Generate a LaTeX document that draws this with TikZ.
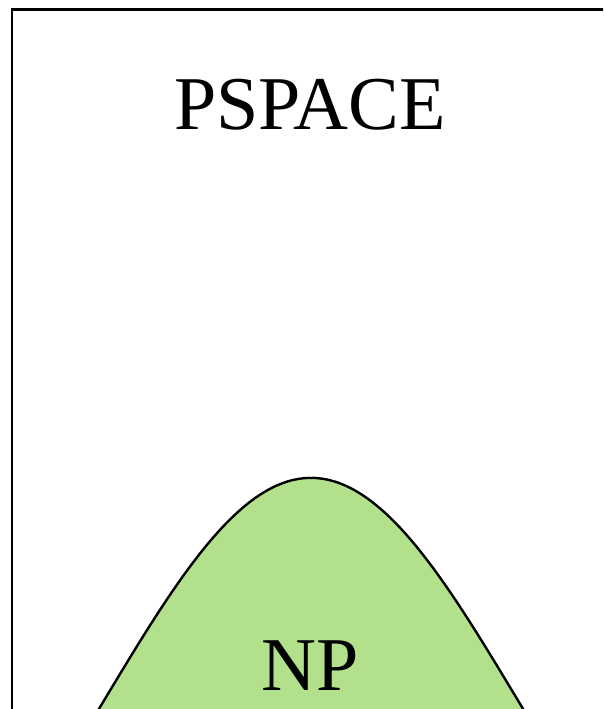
\documentclass[tikz,border=0pt]{standalone}
\usepackage{fontspec}
\setmainfont{Liberation Serif}
\definecolor{npgreen}{RGB}{179,224,139}
\begin{document}
\begin{tikzpicture}[x=1pt,y=1pt,
  classlabel/.style={font=\fontsize{76}{80}\selectfont, anchor=base, inner sep=0pt},
  border/.style={draw=black, line width=2.8pt},
  bell/.style={draw=black, fill=npgreen, line width=2.4pt}]
\useasboundingbox (0,0) rectangle (603,709);
\clip (0,0) rectangle (603,709);
\draw[border] (12,-50) -- (12,699.5) -- (700,699.5);
\draw[bell] plot[domain=80:545, samples=200, smooth] (\x, {231-572*(1-exp(-((\x-311)/100)^2/8.693))}) -- cycle;
\node[classlabel] (pspace) at (310,579) {PSPACE};
\node[classlabel] (np) at (310,18) {NP};
\end{tikzpicture}
\end{document}
